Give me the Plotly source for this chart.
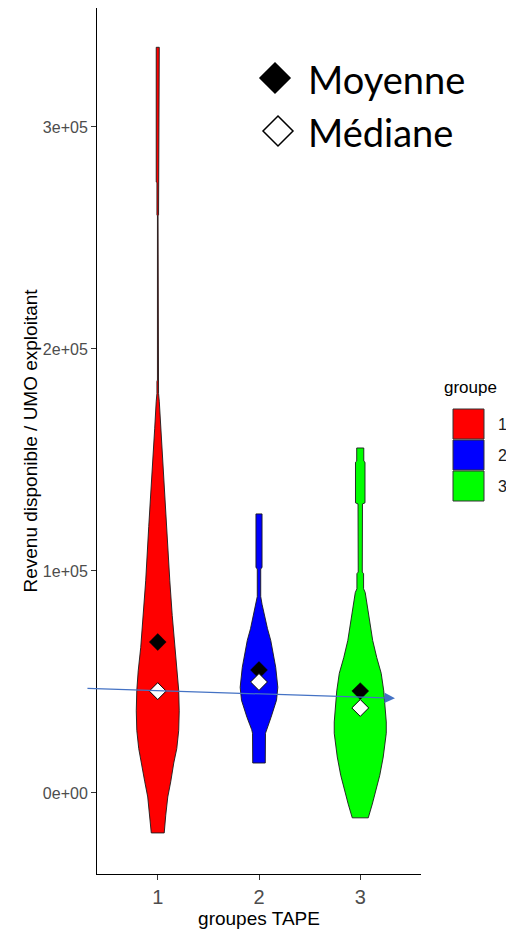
import plotly.graph_objects as go

# groupes TAPE
groups = [1, 2, 3]
colors = ["#FF0000", "#0000FF", "#00FF00"]

# violin outlines: revenue level and half-width (x units)
red_y = [335900, 275200, 275000, 260400, 260000, 186000, 185400, 180000, 176500, 164300,
         149500, 140500, 120000, 95600, 80000, 65600, 55000, 46200, 37000, 28200,
         20000, 13500, 5000, -1800, -10000, -18000]
red_w = [.015, .015, .008, .008, .003, .003, .008, .008, .015, .030,
         .049, .059, .089, .119, .143, .168, .193, .207, .212, .207,
         .188, .158, .128, .099, .079, .064]

blue_y = [125700, 101500, 101000, 88500, 85000, 80800, 74000, 68700, 62000, 56600,
          47600, 41800, 34100, 31000, 28500, 26900, 13500]
blue_w = [.030, .030, .017, .017, .030, .049, .084, .116, .143, .165,
          .186, .173, .119, .093, .072, .064, .062]

green_y = [155400, 149500, 149000, 130700, 130200, 99500, 98800, 92000, 90300, 83500,
           76000, 68700, 61000, 53900, 46000, 38600, 32000, 26900, 16200, 8000,
           1300, -5000, -11200]
green_w = [.035, .035, .047, .047, .022, .020, .033, .033, .049, .074,
           .099, .123, .163, .207, .232, .247, .257, .257, .227, .193,
           .158, .119, .079]

moyennes = [68000, 55400, 45900]
medianes = [45900, 50000, 38300]

# trend arrow (start -> end)
arrow_x = [0.291, 3.343]
arrow_y = [47100, 42700]

ytick_vals = [0, 100000, 200000, 300000]
ytick_text = ["0e+00", "1e+05", "2e+05", "3e+05"]

profiles = [(red_y, red_w), (blue_y, blue_w), (green_y, green_w)]

fig = go.Figure()

for g, col, (ys, ws) in zip(groups, colors, profiles):
    xs = [g + w for w in ws] + [g - w for w in ws[::-1]]
    yy = ys + ys[::-1]
    fig.add_trace(go.Scatter(x=xs + [xs[0]], y=yy + [yy[0]], mode="lines", fill="toself",
                             fillcolor=col, line=dict(color="#1a1a1a", width=0.9),
                             showlegend=False, hoverinfo="skip"))

fig.add_trace(go.Scatter(x=groups, y=moyennes, mode="markers", showlegend=False,
                         marker=dict(symbol="diamond", size=13, color="black",
                                     line=dict(color="black", width=0.5))))
fig.add_trace(go.Scatter(x=groups, y=medianes, mode="markers", showlegend=False,
                         marker=dict(symbol="diamond", size=13, color="white",
                                     line=dict(color="black", width=1))))

fig.add_annotation(x=arrow_x[1], y=arrow_y[1], ax=arrow_x[0], ay=arrow_y[0],
                   xref="x", yref="y", axref="x", ayref="y", text="",
                   showarrow=True, arrowhead=2, arrowsize=1.6, arrowwidth=1.3,
                   arrowcolor="#4472C4", standoff=0)

# the page body adds an 8px offset, so everything is laid out in window pixels minus that
OFF = 8
W, H = 514 - OFF, 931 - OFF
L, R, T, B = 97 - OFF, 421 - OFF, 0, 874 - OFF


def px(x):
    return (x - OFF - L) / (R - L)


def py(y):
    return (B - (y - OFF)) / (B - T)


shapes = []
# Moyenne / Médiane key
for cx, cy, fill in [(275, 78, "black"), (278, 131, "white")]:
    d = 15
    path = "M {} {} L {} {} L {} {} L {} {} Z".format(
        px(cx), py(cy - d), px(cx + d), py(cy), px(cx), py(cy + d), px(cx - d), py(cy))
    shapes.append(dict(type="path", xref="paper", yref="paper", path=path,
                       fillcolor=fill, line=dict(color="black", width=1.5)))

# groupe legend boxes
for i, col in enumerate(colors):
    top = 409 + 31 * i
    shapes.append(dict(type="rect", xref="paper", yref="paper",
                       x0=px(453), x1=px(484), y0=py(top + 30), y1=py(top),
                       fillcolor=col, line=dict(color="#333333", width=1)))
    fig.add_annotation(x=px(496), y=py(top + 15), xref="paper", yref="paper",
                       text=str(groups[i]), showarrow=False, xanchor="left", yanchor="middle",
                       font=dict(size=16, color="#1a1a1a"))

fig.add_annotation(x=px(442), y=py(387), xref="paper", yref="paper", text="groupe",
                   showarrow=False, xanchor="left", yanchor="middle",
                   font=dict(size=17, color="black"))
fig.add_annotation(x=px(306), y=py(79), xref="paper", yref="paper", text="Moyenne",
                   showarrow=False, xanchor="left", yanchor="middle",
                   font=dict(family="Lato", size=38, color="black"))
fig.add_annotation(x=px(306), y=py(132), xref="paper", yref="paper", text="Médiane",
                   showarrow=False, xanchor="left", yanchor="middle",
                   font=dict(family="Lato", size=38, color="black"))

fig.update_layout(
    width=W, height=H,
    margin=dict(l=L, r=W - R, t=T, b=H - B),
    paper_bgcolor="white", plot_bgcolor="white",
    font=dict(family="Liberation Sans, Arial, sans-serif"),
    shapes=shapes,
    xaxis=dict(range=[0.4, 3.6], tickvals=groups, ticktext=[str(g) for g in groups],
               showgrid=False, zeroline=False, showline=True, linecolor="black", linewidth=1,
               ticks="outside", ticklen=5, tickcolor="#333333",
               tickfont=dict(size=20, color="#4D4D4D"),
               title=dict(text="groupes TAPE", font=dict(size=19, color="black"), standoff=2)),
    yaxis=dict(range=[-36500, 353600], tickvals=ytick_vals, ticktext=ytick_text,
               showgrid=False, zeroline=False, showline=True, linecolor="black", linewidth=1,
               ticks="outside", ticklen=5, tickcolor="#333333",
               tickfont=dict(size=16, color="#4D4D4D"),
               title=dict(text="Revenu disponible / UMO exploitant",
                          font=dict(size=19, color="black"), standoff=0)),
)

fig.write_html("out.html")
